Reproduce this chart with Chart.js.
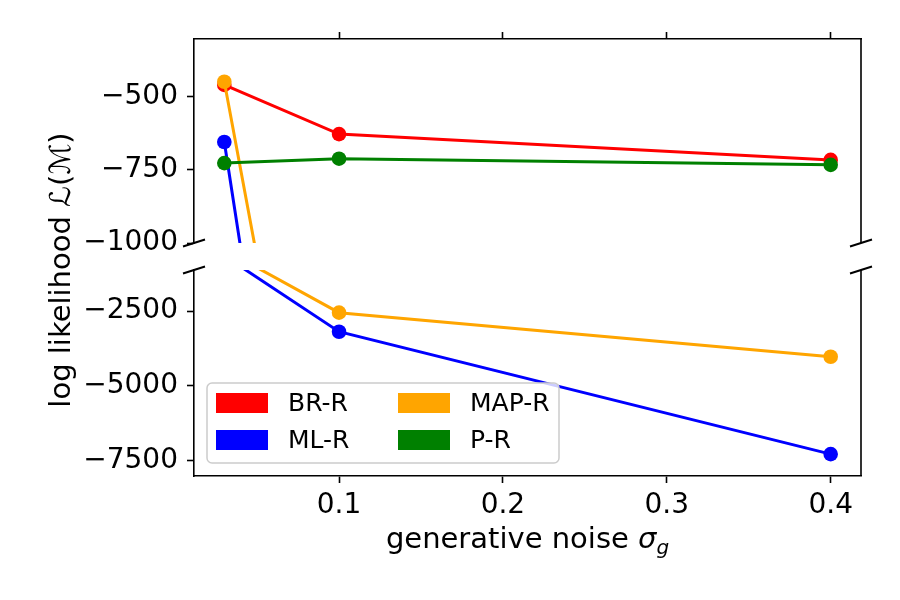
<!DOCTYPE html>
<html>
<head>
<meta charset="utf-8">
<script src="https://cdn.jsdelivr.net/npm/chart.js@4"></script>
<style>
    html, body { margin: 0; padding: 0; background: #ffffff; }
    #chartWrap { width: 900px; height: 600px; }
</style>
</head>
<body>
<div id="chartWrap"><canvas id="likelihoodChart" width="900" height="600"></canvas></div>
<script>
// Data
const noiseLevels = [0.03, 0.1, 0.4];
const seriesNames = ['BR-R', 'ML-R', 'MAP-R', 'P-R'];
const seriesColors = ['#ff0000', '#0000ff', '#ffa500', '#008000'];
const brR = [-460, -628, -716];
const mlR = [-655, -3192, -7279];
const mapR = [-449, -2555, -4027];
const pR = [-727, -712, -733];
const seriesValues = [brR, mlR, mapR, pR];

// Tick labels
const xTicks = [0.1, 0.2, 0.3, 0.4];
const topTicks = [-1000, -750, -500];
const bottomTicks = [-7500, -5000, -2500];

const fontFamily = "'DejaVu Sans', sans-serif";
const tickFont = { family: fontFamily, size: 28 };

function minusLabel(v) {
    return (v < 0 ? '\u2212' : '') + Math.abs(v);
}

// Every series is drawn on both halves of the broken axis and clipped to each half
function buildDatasets() {
    const datasets = [];
    ['yTop', 'yBot'].forEach(function(axisId) {
        seriesValues.forEach(function(values, i) {
            datasets.push({
                label: seriesNames[i],
                data: noiseLevels.map((x, j) => ({ x: x, y: values[j] })),
                yAxisID: axisId,
                xAxisID: 'x',
                borderColor: seriesColors[i],
                backgroundColor: seriesColors[i],
                borderWidth: 3,
                pointRadius: 7.3,
                pointHoverRadius: 7.3,
                pointBorderWidth: 0,
                order: seriesValues.length - i,
                tension: 0
            });
        });
    });
    return datasets;
}

// Clip each dataset to the vertical extent of its own y scale
const halfClipPlugin = {
    id: 'halfClip',
    beforeDatasetDraw(chart, args) {
        const ds = chart.data.datasets[args.index];
        const scale = chart.scales[ds.yAxisID];
        const area = chart.chartArea;
        const ctx = chart.ctx;
        ctx.save();
        ctx.beginPath();
        ctx.rect(area.left, scale.top, area.right - area.left, scale.bottom - scale.top);
        ctx.clip();
    },
    afterDatasetDraw(chart) {
        chart.ctx.restore();
    }
};

// Right spines, break marks, legend and axis titles
const decorPlugin = {
    id: 'decor',
    afterDatasetsDraw(chart) {
        const ctx = chart.ctx;
        const area = chart.chartArea;
        const yTop = chart.scales.yTop;
        const yBot = chart.scales.yBot;

        ctx.save();
        ctx.strokeStyle = '#000000';
        ctx.lineWidth = 1.6;
        ctx.beginPath();
        ctx.moveTo(area.right, yTop.top);
        ctx.lineTo(area.right, yTop.bottom);
        ctx.moveTo(area.right, yBot.top);
        ctx.lineTo(area.right, yBot.bottom);
        ctx.stroke();

        // break marks
        ctx.lineWidth = 2;
        [area.left, area.right].forEach(function(x) {
            [yTop.bottom, yBot.top].forEach(function(y) {
                ctx.beginPath();
                ctx.moveTo(x - 11, y + 3.5);
                ctx.lineTo(x + 11, y - 3.5);
                ctx.stroke();
            });
        });

        // legend (two columns, column-major like matplotlib)
        const lx = area.left + 13, ly = 383, lw = 352, lh = 80;
        ctx.beginPath();
        ctx.roundRect(lx, ly, lw, lh, 5);
        ctx.fillStyle = 'rgba(255,255,255,0.8)';
        ctx.fill();
        ctx.strokeStyle = '#cccccc';
        ctx.lineWidth = 1.5;
        ctx.stroke();

        ctx.font = '25px ' + fontFamily;
        ctx.textBaseline = 'middle';
        ctx.textAlign = 'left';
        seriesNames.forEach(function(name, i) {
            const col = Math.floor(i / 2);
            const row = i % 2;
            const px = lx + 9 + col * 182;
            const py = ly + 10 + row * 37;
            ctx.fillStyle = seriesColors[i];
            ctx.fillRect(px, py, 52, 20);
            ctx.fillStyle = '#000000';
            ctx.fillText(name, px + 72, py + 11);
        });

        // x axis title with subscript
        const cx = (area.left + area.right) / 2;
        const baseY = area.bottom + 72;
        const part1 = 'generative noise ';
        ctx.font = '29px ' + fontFamily;
        const w1 = ctx.measureText(part1).width;
        ctx.font = 'italic 29px ' + fontFamily;
        const w2 = ctx.measureText('\u03c3').width;
        ctx.font = 'italic 20px ' + fontFamily;
        const w3 = ctx.measureText('g').width;
        const x0 = cx - (w1 + w2 + w3) / 2;
        ctx.fillStyle = '#000000';
        ctx.textBaseline = 'alphabetic';
        ctx.font = '29px ' + fontFamily;
        ctx.fillText(part1, x0, baseY);
        ctx.font = 'italic 29px ' + fontFamily;
        ctx.fillText('\u03c3', x0 + w1, baseY);
        ctx.font = 'italic 20px ' + fontFamily;
        ctx.fillText('g', x0 + w1 + w2, baseY + 6);

        // y axis title, shared by both halves
        ctx.translate(62, 270);
        ctx.rotate(-Math.PI / 2);
        ctx.textAlign = 'center';
        ctx.textBaseline = 'middle';
        ctx.font = '29px ' + fontFamily;
        ctx.fillText('log likelihood \u2112(\u2133)', 0, 0);
        ctx.restore();
    }
};

function yAxisBase(extra) {
    return Object.assign({
        type: 'linear',
        position: 'left',
        stack: 'broken',
        afterFit: function(scale) { scale.width = 156; },
        grid: { drawOnChartArea: false, color: '#000000', tickColor: '#000000', tickLength: 7, tickWidth: 1.6 },
        border: { color: '#000000', width: 1.6 },
        ticks: { font: tickFont, color: '#000000', padding: 9, callback: minusLabel }
    }, extra);
}

function initializeLikelihoodChart() {
    const ctx = document.getElementById('likelihoodChart');
    if (!ctx) return;

    return new Chart(ctx.getContext('2d'), {
        type: 'line',
        data: { datasets: buildDatasets() },
        options: {
            responsive: false,
            animation: false,
            devicePixelRatio: 1,
            layout: { padding: { left: 38, right: 39, top: 0, bottom: 0 } },
            plugins: {
                legend: { display: false },
                tooltip: { enabled: false }
            },
            scales: {
                x: {
                    type: 'linear',
                    position: 'bottom',
                    min: 0.0115,
                    max: 0.4185,
                    afterFit: function(scale) { scale.height = 124; },
                    afterBuildTicks: function(scale) { scale.ticks = xTicks.map(v => ({ value: v })); },
                    grid: { drawOnChartArea: false, color: '#000000', tickColor: '#000000', tickLength: 7, tickWidth: 1.6 },
                    border: { color: '#000000', width: 1.6 },
                    ticks: { font: tickFont, color: '#000000', padding: 6, maxRotation: 0 }
                },
                xTop: {
                    type: 'linear',
                    position: 'top',
                    min: 0.0115,
                    max: 0.4185,
                    afterFit: function(scale) { scale.height = 39; },
                    afterBuildTicks: function(scale) { scale.ticks = xTicks.map(v => ({ value: v })); },
                    grid: { drawOnChartArea: false, color: '#000000', tickColor: '#000000', tickLength: 7, tickWidth: 1.6 },
                    border: { color: '#000000', width: 1.6 },
                    ticks: { display: false }
                },
                // defined bottom-first: Chart.js stacks later left axes on top
                yBot: yAxisBase({
                    min: -8011,
                    max: -1130,
                    stackWeight: 206,
                    afterBuildTicks: function(scale) { scale.ticks = bottomTicks.map(v => ({ value: v })); }
                }),
                yGap: {
                    type: 'linear',
                    position: 'left',
                    stack: 'broken',
                    stackWeight: 27,
                    min: 0,
                    max: 1,
                    afterFit: function(scale) { scale.width = 156; },
                    grid: { display: false },
                    border: { display: false },
                    ticks: { display: false }
                },
                yTop: yAxisBase({
                    min: -1000,
                    max: -303,
                    stackWeight: 204,
                    afterBuildTicks: function(scale) { scale.ticks = topTicks.map(v => ({ value: v })); }
                })
            }
        },
        plugins: [halfClipPlugin, decorPlugin]
    });
}

initializeLikelihoodChart();
</script>
</body>
</html>
